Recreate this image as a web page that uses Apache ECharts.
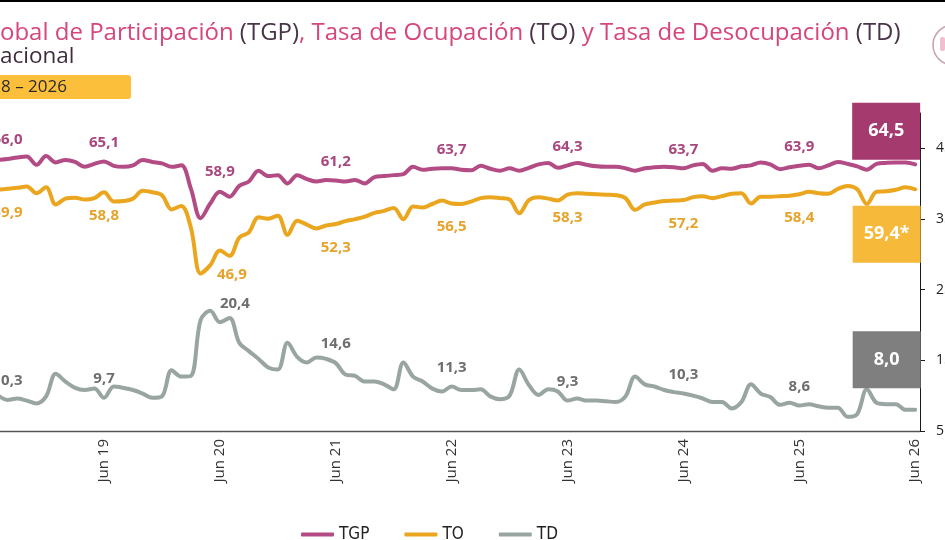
<!DOCTYPE html>
<html>
<head>
<meta charset="utf-8">
<script src="https://cdn.jsdelivr.net/npm/echarts@6/dist/echarts.min.js"></script>
<style>html,body{margin:0;padding:0;background:#fff;}#c{width:945px;height:540px;}</style>
</head>
<body>
<div id="c"></div>
<script>
// Monthly categories, Jul 2018 .. Jun 2026
const monthNames = ['Ene','Feb','Mar','Abr','May','Jun','Jul','Ago','Sep','Oct','Nov','Dic'];
const categories = [];
for (let y = 2018, m = 6; y < 2026 || (y === 2026 && m <= 5); ) {
  categories.push(monthNames[m] + ' ' + String(y).slice(2));
  m++; if (m > 11) { m = 0; y++; }
}

const tgp = [65.4,65.6,65.9,66.1,64.4,66.2,64.9,65.4,65.0,64.0,64.6,65.1,
             64.2,64.0,64.3,65.4,65.0,64.7,64.0,64.3,59.5,53.5,56.5,58.9,
             57.9,60.1,61.0,63.2,62.1,62.3,60.6,62.3,61.5,61.0,61.3,61.2,
             61.0,61.3,60.6,61.9,62.1,62.3,62.5,64.0,63.4,63.6,63.7,63.7,
             63.4,63.3,64.2,63.6,63.2,63.7,63.2,63.8,64.5,64.8,63.8,64.3,
             64.8,64.4,64.1,64.0,64.0,63.7,63.2,63.7,63.9,64.0,63.9,63.7,
             64.3,64.6,63.2,63.7,63.6,64.1,64.3,64.9,64.5,63.5,63.9,64.2,
             64.4,63.7,64.3,65.0,64.6,64.1,63.4,64.6,64.8,64.9,64.9,64.5];
const to  = [59.3,59.5,59.7,60.0,58.6,59.8,56.3,57.5,57.7,57.3,57.6,58.8,
             56.9,57.0,57.5,59.1,58.8,58.2,55.3,56.0,51.5,42.2,43.9,46.9,
             45.8,49.5,50.6,53.7,53.4,54.0,50.1,53.0,52.2,51.4,52.0,52.3,
             52.9,53.3,53.8,54.6,55.0,55.6,53.3,55.9,55.7,56.4,57.1,56.5,
             56.4,56.9,57.6,57.8,57.6,57.3,54.5,57.2,57.8,57.5,57.1,58.3,
             58.6,58.5,58.4,58.3,58.2,57.6,55.2,56.3,56.7,57.0,57.1,57.2,
             57.8,58.0,57.6,58.0,58.5,58.6,56.5,57.9,57.9,58.0,58.1,58.4,
             58.9,58.6,58.5,59.5,60.1,59.4,56.4,58.9,59.0,59.3,59.8,59.4];
const td  = [10.1,9.4,9.6,9.3,8.9,9.9,13.1,12.0,11.1,10.8,11.0,9.7,
             11.3,11.1,10.8,10.3,9.7,9.9,13.6,12.7,12.8,20.7,22.0,20.4,
             21.0,17.5,16.3,15.2,14.0,13.7,17.5,15.5,14.7,15.4,15.2,14.6,
             13.0,12.8,12.0,12.0,11.6,10.9,14.7,12.7,12.0,11.0,10.6,11.3,
             10.8,10.8,10.9,9.9,9.5,10.0,13.7,11.5,10.1,10.9,10.6,9.3,
             9.6,9.3,9.3,9.2,9.1,9.9,12.7,11.6,11.3,10.8,10.5,10.3,
             10.0,9.6,9.1,9.1,8.2,9.1,11.6,10.3,9.8,8.7,9.0,8.6,
             8.8,8.5,8.3,8.3,7.0,7.4,10.9,9.0,8.8,8.8,8.0,8.0];

const labelIdx   = [1, 11, 23, 35, 47, 59, 71, 83];
const tgpLabels  = ['66,0','65,1','58,9','61,2','63,7','64,3','63,7','63,9'];
const toLabels   = ['59,9','58,8','46,9','52,3','56,5','58,3','57,2','58,4'];
const tdLabels   = ['10,3','9,7','20,4','14,6','11,3','9,3','10,3','8,6'];
const lastLabels = { tgp: '64,5', to: '59,4*', td: '8,0' };
const rightTicks = [5, 15, 25, 35, 45];

const C = {
  tgp: '#b34c85', tgpTxt: '#a8477e', tgpBox: '#a53a6f',
  to: '#eaa61f', toTxt: '#e5a32b', toBox: '#f7b93a',
  td: '#99a5a2', tdTxt: '#6e6e6e', tdBox: '#7f7f7f'
};

// pos: label centre relative to the point; pos23: special placement at Jun 20
function build(values, texts, color, pos, pos23) {
  return values.map((v, i) => {
    const k = labelIdx.indexOf(i);
    if (k < 0) return v;
    const p = (i === 23 && pos23) ? pos23 : pos;
    return { value: v, label: {
      show: true, formatter: texts[k], color,
      position: [0.5 + p[0], 0.5 + p[1]], align: 'center', verticalAlign: 'middle',
      fontFamily: 'Open Sans', fontSize: 15, fontWeight: 'bold'
    } };
  });
}

function series(name, values, color, yIdx, texts, txtColor, pos, pos23, boxColor, boxText, boxOffset) {
  const last = values.length - 1;
  return {
    name, type: 'line', yAxisIndex: yIdx,
    data: build(values, texts, txtColor, pos, pos23),
    smooth: 0.35, symbol: 'circle', symbolSize: 1, showSymbol: true, showAllSymbol: true,
    lineStyle: { color, width: 4, cap: 'round', join: 'round' },
    itemStyle: { color },
    emphasis: { disabled: true },
    labelLayout: { hideOverlap: false, moveOverlap: false },
    markPoint: {
      symbol: 'rect', symbolSize: [68, 57], symbolOffset: boxOffset,
      itemStyle: { color: boxColor },
      label: { show: true, position: 'inside', color: '#fff', fontFamily: 'Open Sans', fontSize: 18, fontWeight: 'bold', formatter: boxText },
      data: [{ coord: [last, values[last]] }]
    }
  };
}

const chart = echarts.init(document.getElementById('c'), null, { renderer: 'canvas' });
chart.setOption({
  animation: false,
  backgroundColor: '#fff',
  grid: { left: -7, right: 25, top: 113, bottom: 109, containLabel: false, outerBoundsMode: 'none' },
  legend: {
    data: ['TGP', 'TO', 'TD'], left: 301, top: 526, padding: 0, icon: 'roundRect',
    itemWidth: 33, itemHeight: 4, itemGap: 35,
    textStyle: { fontFamily: 'Liberation Sans Narrow, DejaVu Sans Condensed, sans-serif', fontSize: 17, color: '#222' }
  },
  xAxis: {
    type: 'category', data: categories, boundaryGap: true,
    axisLine: { lineStyle: { color: '#555', width: 1.3 } },
    axisTick: { length: 4, lineStyle: { color: '#555' }, interval: (i, v) => v.startsWith('Jun') },
    axisLabel: { rotate: 90, margin: 8, fontFamily: 'Open Sans', fontSize: 15, color: '#333',
                 interval: (i, v) => v.startsWith('Jun') },
    splitLine: { show: false }
  },
  yAxis: [
    { type: 'value', min: 10, max: 75, show: false, splitLine: { show: false } },
    { type: 'value', position: 'right', min: 5, max: 50,
      axisLine: { show: true, lineStyle: { color: '#1a1a1a', width: 1 } },
      axisTick: { show: true, length: 5, customValues: rightTicks, lineStyle: { color: '#1a1a1a' } },
      axisLabel: { margin: 16, fontFamily: 'Open Sans', fontSize: 14, color: '#222', customValues: rightTicks },
      splitLine: { show: false } }
  ],
  series: [
    series('TGP', tgp, C.tgp, 0, tgpLabels, C.tgpTxt, [0, -19], [0, -20], C.tgpBox, lastLabels.tgp, [-29, -33]),
    series('TO', to, C.to, 0, toLabels, C.toTxt, [0, 23.5], [12, 24], C.toBox, lastLabels.to, [-28.5, 45]),
    series('TD', td, C.td, 1, tdLabels, C.tdTxt, [0, -19], [15, -18], C.tdBox, lastLabels.td, [-28.5, -50])
  ],
  graphic: [
    { type: 'rect', left: 0, top: 0, shape: { width: 945, height: 2 }, style: { fill: '#000' } },
    { type: 'text', x: 0, y: 33, style: {
        text: '{p|obal de Participación }{d|(TGP)}{p|, Tasa de Ocupación }{d|(TO)}{p| y Tasa de Desocupación }{d|(TD)}',
        verticalAlign: 'middle', font: '24px "Open Sans"',
        rich: { p: { fill: '#d6457c', fontFamily: 'Open Sans', fontSize: 24 },
                d: { fill: '#4a3448', fontFamily: 'Open Sans', fontSize: 24 } } } },
    { type: 'text', x: 0, y: 57, style: { text: 'acional', fill: '#3e2c3c', font: '22.5px "Open Sans"', verticalAlign: 'middle' } },
    { type: 'rect', shape: { x: -10, y: 75, width: 141, height: 24, r: 3 }, style: { fill: '#fbbf3c' } },
    { type: 'text', x: 1, y: 87, style: { text: '8 – 2026', fill: '#2a2a2a', font: '17px "Open Sans"', verticalAlign: 'middle' } },
    { type: 'circle', shape: { cx: 953, cy: 45, r: 20 }, style: { fill: 'none', stroke: '#c6a2b2', lineWidth: 1.5 } },
    { type: 'rect', shape: { x: 940, y: 37, width: 5, height: 14, r: 2 }, style: { fill: '#f1bfd0' } }
  ]
});
</script>
</body>
</html>
